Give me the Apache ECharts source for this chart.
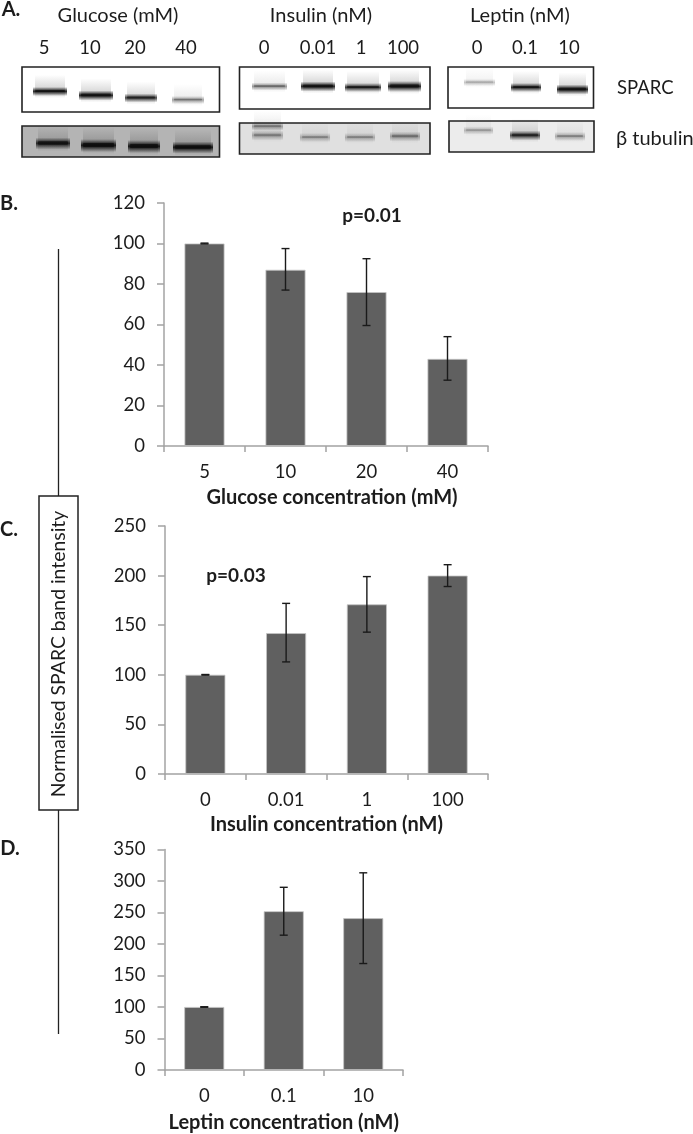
<!DOCTYPE html>
<html><head><meta charset="utf-8">
<style>html,body{margin:0;padding:0;background:#fff}#c{width:693px;height:1134px}</style>
<script src="https://cdn.jsdelivr.net/npm/echarts@6/dist/echarts.min.js"></script>
</head><body><div id="c"></div>
<script>
const glucoseCats = ['5','10','20','40'];
const glucoseVals = [100,87,76,43];
const glucoseLow  = [99.8,77,59.5,32.5];
const glucoseHigh = [100.2,97.5,92.5,54];
const insulinCats = ['0','0.01','1','100'];
const insulinVals = [100,142,171,200];
const insulinLow  = [99.7,113,143,189];
const insulinHigh = [100.3,172,199,211];
const leptinCats = ['0','0.1','10'];
const leptinVals = [100,252,241];
const leptinLow  = [99.6,214,169];
const leptinHigh = [100.4,290,313];

const FONT = 'Lato, "Open Sans", sans-serif';
const INK = '#1c1c1c', AXIS = '#a3a3a3', BAR = '#606060';
const panels = [
  {cats:glucoseCats,vals:glucoseVals,low:glucoseLow,high:glucoseHigh,max:120,step:20,left:164,right:488,top:203,bottom:446,name:'Glucose concentration (mM)',pad:[0,0,0,12],gap:42},
  {cats:insulinCats,vals:insulinVals,low:insulinLow,high:insulinHigh,max:250,step:50,left:165,right:488,top:526,bottom:774,name:'Insulin concentration (nM)',pad:[0,0,0,0],gap:41},
  {cats:leptinCats,vals:leptinVals,low:leptinLow,high:leptinHigh,max:350,step:50,left:164.5,right:403,top:849.5,bottom:1071,name:'Leptin concentration (nM)',pad:[0,0,0,0],gap:43}
];
const grids=[],xs=[],ys=[],series=[];
panels.forEach((p,i)=>{
  grids.push({left:p.left,top:p.top,width:p.right-p.left,height:p.bottom-p.top});
  xs.push({type:'category',gridIndex:i,data:p.cats,
    axisLine:{lineStyle:{color:AXIS,width:1.5}},
    axisTick:{show:true,length:6,alignWithLabel:false,lineStyle:{color:AXIS,width:1.5}},
    axisLabel:{color:INK,fontFamily:FONT,fontSize:18.5,margin:17,interval:0},
    name:p.name,nameLocation:'middle',nameGap:p.gap,
    nameTextStyle:{color:INK,fontFamily:FONT,fontWeight:'bold',fontSize:20,padding:p.pad}});
  ys.push({type:'value',gridIndex:i,min:0,max:p.max,interval:p.step,
    axisLine:{show:true,lineStyle:{color:AXIS,width:1.5}},
    axisTick:{show:true,length:7,lineStyle:{color:AXIS,width:1.5}},
    splitLine:{show:false},
    axisLabel:{color:INK,fontFamily:FONT,fontSize:18.5,margin:19}});
  series.push({type:'bar',xAxisIndex:i,yAxisIndex:i,data:p.vals,barWidth:40,
    itemStyle:{color:BAR,borderColor:'#c4c4c4',borderWidth:0.8},animation:false,silent:true});
  series.push({type:'custom',xAxisIndex:i,yAxisIndex:i,z:5,animation:false,silent:true,
    data:p.cats.map((c,k)=>[k,p.low[k],p.high[k]]),
    encode:{x:0,y:[1,2]},
    renderItem:(params,api)=>{
      const a=api.coord([api.value(0),api.value(1)]),b=api.coord([api.value(0),api.value(2)]);
      const st={stroke:'#1a1a1a',lineWidth:1.4,fill:null},w=4;
      return {type:'group',children:[
        {type:'line',shape:{x1:a[0],y1:a[1],x2:b[0],y2:b[1]},style:st},
        {type:'line',shape:{x1:a[0]-w,y1:a[1],x2:a[0]+w,y2:a[1]},style:st},
        {type:'line',shape:{x1:b[0]-w,y1:b[1],x2:b[0]+w,y2:b[1]},style:st}]};
    }});
});

const g=[];
const txt=(t,x,y,size,o={})=>g.push({type:'text',x,y,rotation:o.rot||0,z:20,silent:true,
  style:{text:t,fill:INK,fontFamily:o.font||FONT,fontSize:size,fontWeight:o.bold?'bold':'normal',align:o.align||'center',verticalAlign:'middle'}});
const frame=(x0,y0,x1,y1,bg)=>g.push({type:'rect',z:10,silent:true,shape:{x:x0,y:y0,width:x1-x0,height:y1-y0},
  style:{fill:bg,stroke:'#222',lineWidth:1.6}});
const fade=(x0,x1,y0,y1,a,peak,z)=>g.push({type:'rect',z,silent:true,shape:{x:x0,y:y0,width:x1-x0,height:y1-y0},
  style:{fill:new echarts.graphic.LinearGradient(0,0,0,1,[
    {offset:0,color:'rgba(15,15,15,0)'},{offset:peak,color:`rgba(15,15,15,${a})`},{offset:1,color:'rgba(15,15,15,0)'}])}});
const band=(x0,x1,y,h,a)=>{
  fade(x0+2,x1-2,y-h/2-14,y+h/2+5,a*0.22,0.72,11);       // smear of the band
  fade(x0,x1,y-h/2-2,y+h/2+3,a*0.95,0.48,12);           // soft body
  g.push({type:'rect',z:13,silent:true,shape:{x:x0+2,y:y-h/4,width:x1-x0-4,height:h/2,r:1},
    style:{fill:`rgba(10,10,10,${a*0.7})`,shadowBlur:3,shadowColor:`rgba(10,10,10,${a*0.7})`}});
};
// western-blot panels
frame(22,67,219.5,112,'#fff');frame(239.5,67,430,109,'#fff');frame(448,67,593.5,108,'#fff');
frame(22,126,219.5,157,'#b4b4b4');frame(239.5,123,430,154,'#e0e0e0');frame(449,121,594,152,'#ececec');
[[33,67,91,4,.95],[79,113,95,5,.95],[125,157,97.5,4,.8],[172,204,99.5,3,.4],
 [252,287,86,3,.45],[301,335,86,5,.95],[345,381,87,4,.85],[388,421,86,6,.95],
 [464,495,82,2,.25],[511,541,87,4,.9],[557,588,89,5,.95],
 [36,70,143,7,.9],[81,116,145,8,1],[128,160,146,8,1],[173,213,147,7,1],
 [252,283,135,5,.3],[252,283,126,3,.35],[300,330,137,4,.28],[345,375,137,4,.28],[390,420,136,5,.35],
 [464,493,130,3,.25],[510,540,135,5,.75],[555,585,136,4,.3]
].forEach(b=>band(...b));
// blot text
txt('A.',11,10,20,{bold:true});
txt('Glucose (mM)',118,16,20);txt('Insulin (nM)',321,16,20);txt('Leptin (nM)',520,16,20);
[['5',44],['10',90],['20',135],['40',186],['0',264],['0.01',318],['1',361],['100',403],['0',477],['0.1',525],['10',569]]
  .forEach(l=>txt(l[0],l[1],48,18.5));
txt('SPARC',617,88,18.5,{align:'left'});
txt('β tubulin',616,139,20,{align:'left'});
// panel letters and p values
txt('B.',9,204,20,{bold:true});txt('C.',9,530,20,{bold:true});txt('D.',10,849,20,{bold:true});
txt('p=0.01',372,216,19,{bold:true});txt('p=0.03',236,576,19,{bold:true});
// shared y label
g.push({type:'line',z:9,silent:true,shape:{x1:58.5,y1:249,x2:58.5,y2:1034},style:{stroke:'#222',lineWidth:1.3}});
g.push({type:'rect',z:10,silent:true,shape:{x:39,y:496,width:39,height:314},style:{fill:'#fff',stroke:'#222',lineWidth:1.5}});
txt('Normalised SPARC band intensity',59,654,19.4,{rot:Math.PI/2});

const chart=echarts.init(document.getElementById('c'),null,{renderer:'canvas'});
chart.setOption({animation:false,backgroundColor:'#fff',grid:grids,xAxis:xs,yAxis:ys,series,graphic:{elements:g}});
</script></body></html>
